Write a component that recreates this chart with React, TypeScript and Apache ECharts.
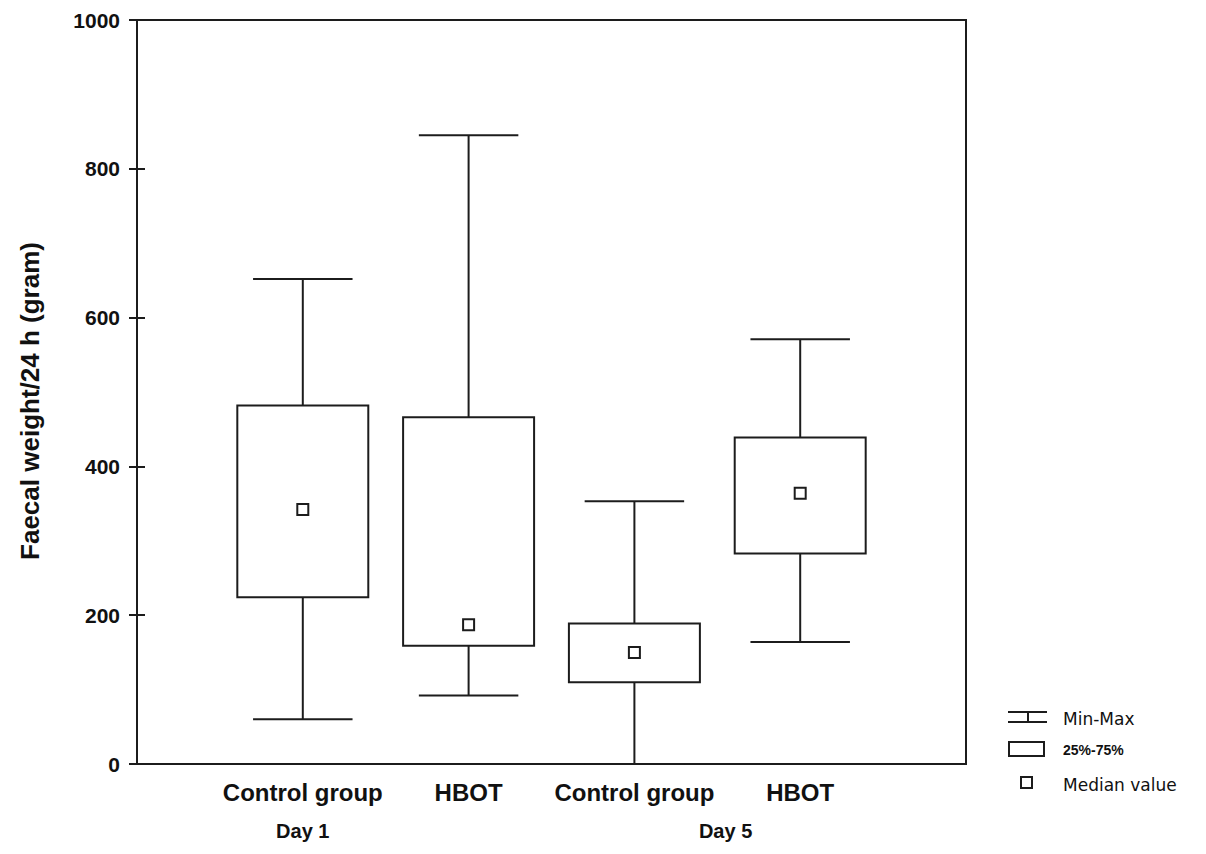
import React, { useEffect, useRef } from "react";
import * as echarts from "echarts";

const categories = ["Control group", "HBOT", "Control group", "HBOT"];
const minVals = [60, 92, 0, 164];
const q1Vals = [224, 159, 110, 283];
const medianVals = [342, 187, 150, 364];
const q3Vals = [482, 466, 189, 439];
const maxVals = [652, 845, 353, 571];

const dayLabels = ["Day 1", "Day 5"];
const dayPositions = [1, 3.55];

const yTitle = "Faecal weight/24 h (gram)";
const legendLabels = ["Min-Max", "25%-75%", "Median value"];

const LINE = "#1c1c1c";
const FONT = "'Liberation Sans', Arial, sans-serif";

export default function App() {
  const ref = useRef<HTMLDivElement>(null);

  useEffect(() => {
    if (!ref.current) return;
    const chart = echarts.init(ref.current, undefined, { renderer: "svg" });
    const data = categories.map((_, i) => [
      i + 1,
      minVals[i],
      q1Vals[i],
      medianVals[i],
      q3Vals[i],
      maxVals[i],
    ]);

    const renderItem = (params: any, api: any) => {
      const x = api.value(0);
      const mn = api.value(1);
      const q1 = api.value(2);
      const md = api.value(3);
      const q3 = api.value(4);
      const mx = api.value(5);
      const cx = api.coord([x, 0])[0];
      const boxW = api.size([0.79, 0])[0];
      const capW = api.size([0.6, 0])[0];
      const yMin = api.coord([x, mn])[1];
      const yQ1 = api.coord([x, q1])[1];
      const yMd = api.coord([x, md])[1];
      const yQ3 = api.coord([x, q3])[1];
      const yMax = api.coord([x, mx])[1];
      const st = { stroke: LINE, lineWidth: 2, fill: null };
      const ms = 11;
      return {
        type: "group",
        children: [
          { type: "line", shape: { x1: cx, y1: yQ3, x2: cx, y2: yMax }, style: st },
          { type: "line", shape: { x1: cx, y1: yQ1, x2: cx, y2: yMin }, style: st },
          { type: "line", shape: { x1: cx - capW / 2, y1: yMax, x2: cx + capW / 2, y2: yMax }, style: st },
          { type: "line", shape: { x1: cx - capW / 2, y1: yMin, x2: cx + capW / 2, y2: yMin }, style: st },
          {
            type: "rect",
            shape: { x: cx - boxW / 2, y: yQ3, width: boxW, height: yQ1 - yQ3 },
            style: { stroke: LINE, lineWidth: 2, fill: "#fff" },
          },
          {
            type: "rect",
            shape: { x: cx - ms / 2, y: yMd - ms / 2, width: ms, height: ms },
            style: { stroke: LINE, lineWidth: 2, fill: "#fff" },
          },
        ],
      };
    };

    const legendText = {
      fill: "#111",
      fontFamily: "'DejaVu Sans', Verdana, sans-serif",
      fontSize: 17,
      verticalAlign: "middle",
    };

    chart.setOption({
      animation: false,
      backgroundColor: "#fff",
      grid: {
        left: 137,
        top: 20,
        width: 829,
        height: 744,
        show: true,
        borderColor: LINE,
        borderWidth: 2,
        backgroundColor: "transparent",
      },
      xAxis: [
        {
          type: "value",
          min: 0,
          max: 5,
          interval: 1,
          position: "bottom",
          axisLine: { show: true, lineStyle: { color: LINE, width: 2 } },
          axisTick: { show: false },
          splitLine: { show: false },
          axisLabel: {
            margin: 16,
            color: "#111",
            fontFamily: FONT,
            fontWeight: "bold",
            fontSize: 24,
            formatter: (v: number) => {
              const i = Math.round(v) - 1;
              return categories[i] ?? "";
            },
          },
        },
        {
          type: "value",
          min: 0,
          max: 5,
          position: "bottom",
          axisLine: { show: false },
          axisTick: { show: false },
          splitLine: { show: false },
          axisLabel: { show: false },
        },
      ],
      yAxis: [
        {
          type: "value",
          min: 0,
          max: 1000,
          interval: 200,
          position: "left",
          axisLine: { show: true, lineStyle: { color: LINE, width: 2 } },
          axisTick: { show: true, inside: true, length: 8, lineStyle: { color: LINE, width: 2 } },
          splitLine: { show: false },
          axisLabel: {
            margin: 17,
            color: "#111",
            fontFamily: FONT,
            fontWeight: "bold",
            fontSize: 21,
            formatter: (v: number) => String(v),
          },
          name: yTitle,
          nameLocation: "middle",
          nameRotate: 90,
          nameGap: 94,
          nameTextStyle: {
            color: "#111",
            fontFamily: FONT,
            fontWeight: "bold",
            fontSize: 26,
            padding: [0, 18, 0, 0],
          },
        },
        {
          type: "value",
          min: 0,
          max: 1000,
          interval: 200,
          position: "right",
          axisLine: { show: true, lineStyle: { color: LINE, width: 2 } },
          axisTick: { show: true, inside: true, length: 8, lineStyle: { color: LINE, width: 2 } },
          splitLine: { show: false },
          axisLabel: { show: false },
        },
      ],
      series: [
        {
          type: "custom",
          xAxisIndex: 0,
          yAxisIndex: 0,
          renderItem,
          data,
          encode: { x: 0, y: [1, 2, 3, 4, 5] },
          clip: false,
        },
        {
          type: "scatter",
          xAxisIndex: 1,
          yAxisIndex: 0,
          symbolSize: 0,
          silent: true,
          itemStyle: { opacity: 1 },
          data: dayLabels.map((d, i) => ({ name: d, value: [dayPositions[i], 0] })),
          label: {
            show: true,
            position: "bottom",
            distance: 57,
            formatter: (p: any) => p.name,
            color: "#111",
            fontFamily: FONT,
            fontWeight: "bold",
            fontSize: 20,
          },
        },
      ],
      graphic: [
        { type: "line", shape: { x1: 1008, y1: 712, x2: 1047, y2: 712 }, style: { stroke: LINE, lineWidth: 2 } },
        { type: "line", shape: { x1: 1008, y1: 722, x2: 1047, y2: 722 }, style: { stroke: LINE, lineWidth: 2 } },
        { type: "line", shape: { x1: 1028, y1: 712, x2: 1028, y2: 722 }, style: { stroke: LINE, lineWidth: 2 } },
        { type: "text", x: 1063, y: 719, style: { ...legendText, text: legendLabels[0] } },
        { type: "rect", shape: { x: 1009, y: 742, width: 35, height: 14 }, style: { stroke: LINE, lineWidth: 2, fill: "#fff" } },
        {
          type: "text",
          x: 1063,
          y: 750,
          style: { ...legendText, text: legendLabels[1], fontWeight: "bold", fontSize: 14, fontFamily: FONT },
        },
        { type: "rect", shape: { x: 1021, y: 777, width: 11, height: 11 }, style: { stroke: LINE, lineWidth: 2, fill: "#fff" } },
        { type: "text", x: 1063, y: 785, style: { ...legendText, text: legendLabels[2] } },
      ],
    });

    return () => chart.dispose();
  }, []);

  return (
    <div
      ref={ref}
      style={{ position: "fixed", left: 0, top: 0, width: 1206, height: 854, background: "#fff" }}
    />
  );
}
